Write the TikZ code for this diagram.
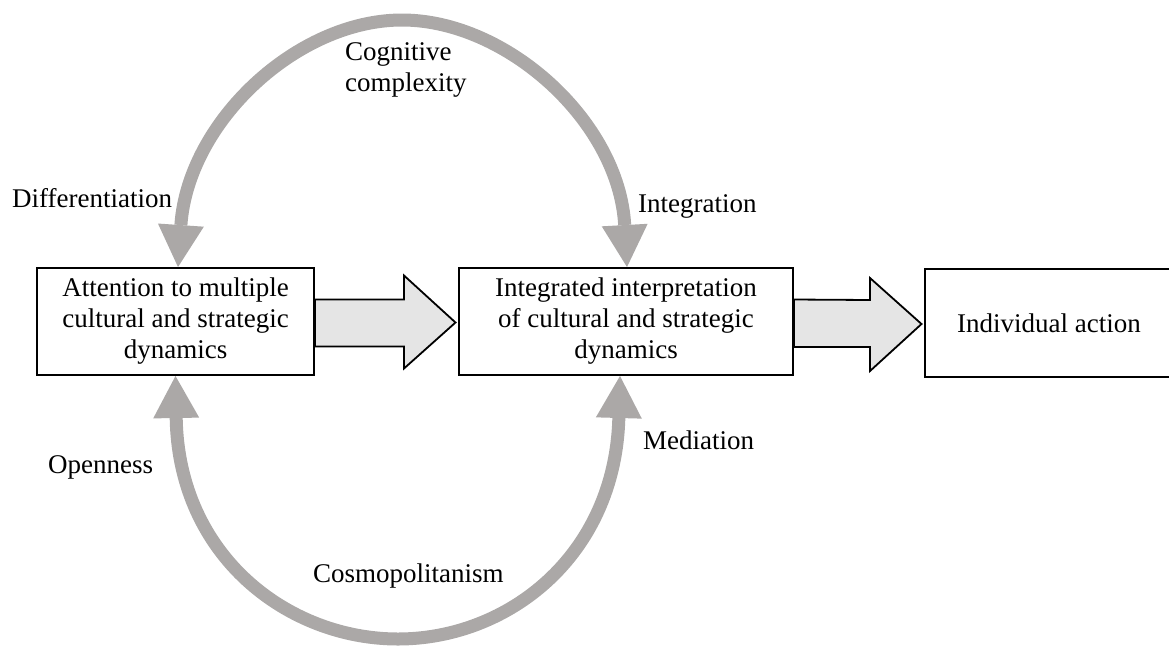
\documentclass[tikz,border=0pt]{standalone}
\usepackage{fontspec}
\setmainfont{Liberation Serif}
\usetikzlibrary{arrows.meta,calc}
\definecolor{bandgray}{RGB}{171,168,167}
\definecolor{arrowfill}{RGB}{229,229,229}
\begin{document}
\begin{tikzpicture}[x=1pt,y=-1pt,
  every node/.style={font=\fontsize{27}{31}\selectfont, inner sep=0pt},
  stagebox/.style={draw=black, line width=2pt, fill=white, align=center},
  blockarrow/.style={draw=black, line width=1.8pt, fill=arrowfill, line join=miter},
  band/.style={draw=bandgray, line width=13pt,
    arrows={Triangle[length=42pt,width=46pt,line width=0pt]-Triangle[length=42pt,width=46pt,line width=0pt]}},
  lbl/.style={anchor=base west}]
\clip (0,0) rectangle (1169,649);

% the three stages
\node[stagebox, minimum width=277pt, minimum height=107pt] (b1) at (175.5,321.5)
  {Attention to multiple\\cultural and strategic\\dynamics};
\node[stagebox, minimum width=334pt, minimum height=107pt] (b2) at (626,321.5)
  {Integrated interpretation\\of cultural and strategic\\dynamics};
\node[stagebox, minimum width=248pt, minimum height=108pt] (b3) at (1049,323)
  {Individual action};

% block arrows between the stages
\draw[blockarrow] ($(b1.east)+(0,-22)$) -- ($(b2.west)+(-54,-22)$) -- ($(b2.west)+(-54,-46)$)
  -- ($(b2.west)+(-2.5,1)$) -- ($(b2.west)+(-54,47)$) -- ($(b2.west)+(-54,25)$)
  -- ($(b1.east)+(0,25)$) -- cycle;
\draw[blockarrow] ($(b2.east)+(0,-22)$) -- ($(b3.west)+(-54,-23)$) -- ($(b3.west)+(-54,-45)$)
  -- ($(b3.west)+(-2.5,1)$) -- ($(b3.west)+(-54,48)$) -- ($(b3.west)+(-54,24)$)
  -- ($(b2.east)+(0,25.5)$) -- cycle;

% curved feedback bands
\coordinate (topc) at (402,20);
\coordinate (botc) at (398,639);
\draw[band] ([xshift=2.5pt]b1.north) .. controls +(10,-145) and +(-105,0) .. (topc)
  .. controls +(105,0) and +(-8,-145) .. ([xshift=1pt]b2.north);
\draw[band] (b1.south) .. controls +(3,180) and +(-110,0) .. (botc)
  .. controls +(110,0) and +(-5,180) .. ([xshift=-6pt]b2.south);

% labels
\node[anchor=west, align=left] (cog) at (345,70) {Cognitive\\complexity};
\node[lbl] (dif) at (12,207) {Differentiation};
\node[lbl] (integ) at (638,212) {Integration};
\node[lbl] (open) at (48,473) {Openness};
\node[lbl] (med) at (643,449) {Mediation};
\node[lbl] (cosmo) at (313,582) {Cosmopolitanism};
\end{tikzpicture}
\end{document}
